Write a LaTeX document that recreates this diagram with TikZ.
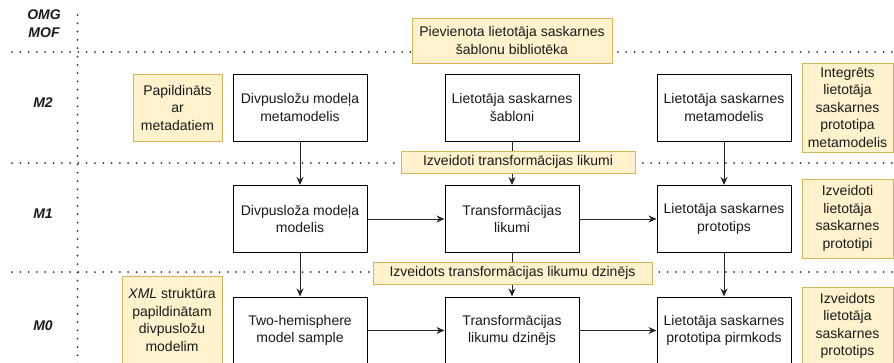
\documentclass[tikz,border=0pt]{standalone}
\usepackage{fontspec}
\setmainfont{Liberation Sans}
\usetikzlibrary{arrows.meta}
\definecolor{notefill}{HTML}{FFF2CC}
\definecolor{notedraw}{HTML}{D6B656}
\definecolor{inkgray}{HTML}{1A1A1A}
\begin{document}
\begin{tikzpicture}[x=1pt,y=-1pt,
  every node/.style={font=\fontsize{14}{17.5}\selectfont, align=center, inner sep=0pt, text=inkgray},
  block/.style={draw=black, fill=white, line width=1pt, minimum width=134pt, minimum height=67pt},
  note/.style={draw=notedraw, fill=notefill, line width=1pt},
  level/.style={font=\fontsize{14}{17.5}\selectfont\bfseries\itshape},
  separator/.style={line width=2pt, dash pattern=on 0pt off 8.3pt, line cap=round, color=black!80},
  flow/.style={-{Stealth[length=8pt,width=7pt]}, line width=1pt, color=black!85}
]
\useasboundingbox (0,0) rectangle (894,362);
\clip (0,0) rectangle (894,362);

% level separators
\draw[separator] (77.5,15) -- (77.5,366);
\draw[separator] (12,52) -- (898,52);
\draw[separator] (12,163) -- (898,163);
\draw[separator] (12,272) -- (898,272);

% level names
\node[level] (omg) at (44,15) {OMG};
\node[level] (mof) at (44,33) {MOF};
\node[level] (m2) at (43,103) {M2};
\node[level] (m1) at (43,214) {M1};
\node[level] (m0) at (43,326) {M0};

% M2 row
\node[block] (metaTwo) at (300,107.5) {Divpusložu modeļa\\metamodelis};
\node[block] (templates) at (512,107.5) {Lietotāja saskarnes\\šabloni};
\node[block] (metaUI) at (724,107.5) {Lietotāja saskarnes\\metamodelis};

% M1 row
\node[block] (modelTwo) at (300,219) {Divpusloža modeļa\\modelis};
\node[block] (rules) at (512,219) {Transformācijas\\likumi};
\node[block] (proto) at (724,219) {Lietotāja saskarnes\\prototips};

% M0 row
\node[block] (sample) at (300,330.5) {Two-hemisphere\\model sample};
\node[block] (engine) at (512,330.5) {Transformācijas\\likumu dzinējs};
\node[block] (code) at (724,330.5) {Lietotāja saskarnes\\prototipa pirmkods};

% flows
\draw[flow] (metaTwo) -- (modelTwo);
\draw[flow] (templates) -- (rules);
\draw[flow] (metaUI) -- (proto);
\draw[flow] (modelTwo) -- (sample);
\draw[flow] (rules) -- (engine);
\draw[flow] (proto) -- (code);
\draw[flow] (modelTwo) -- (rules);
\draw[flow] (rules) -- (proto);
\draw[flow] (sample) -- (engine);
\draw[flow] (engine) -- (code);

% notes
\node[note, minimum width=89pt, minimum height=67pt] (enriched) at (177.5,107.5) {Papildināts\\ar\\metadatiem};
\node[note, minimum width=200pt, minimum height=45pt] (library) at (512,40.5) {Pievienota lietotāja saskarnes\\šablonu bibliotēka};
\node[note, minimum width=91pt, minimum height=89pt] (integrated) at (847.5,107.5) {Integrēts\\lietotāja\\saskarnes\\prototipa\\metamodelis};
\node[note, minimum width=234pt, minimum height=22pt] (rulesMade) at (518,162) {Izveidoti transformācijas likumi};
\node[note, minimum width=91pt, minimum height=79pt] (protosMade) at (847.5,218.5) {Izveidoti\\lietotāja\\saskarnes\\prototipi};
\node[note, minimum width=279pt, minimum height=22pt] (engineMade) at (512.5,273) {Izveidots transformācijas likumu dzinējs};
\node[note, minimum width=100pt, minimum height=88pt] (xmlNote) at (172,320) {\textit{XML} struktūra\\papildinātam\\divpusložu\\modelim};
\node[note, minimum width=91pt, minimum height=78pt] (protoMade) at (847.5,326) {Izveidots\\lietotāja\\saskarnes\\prototips};
\end{tikzpicture}
\end{document}
